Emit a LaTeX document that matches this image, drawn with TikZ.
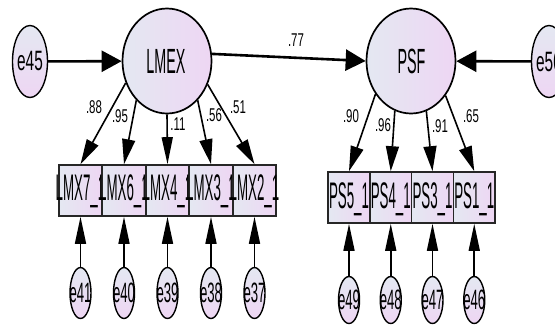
\documentclass[tikz,border=0pt]{standalone}
\usepackage{fontspec}
\setmainfont{Liberation Sans}
% condensed cuts of the same sans family for the different kinds of labels
\newfontfamily\latentfont[FakeStretch=0.41]{Liberation Sans}
\newfontfamily\itemfont[FakeStretch=0.36]{Liberation Sans}
\newfontfamily\errorfont[FakeStretch=0.55]{Liberation Sans}
\newfontfamily\indfont[FakeStretch=0.47]{Liberation Sans}
\newfontfamily\coeffont[FakeStretch=0.62]{Liberation Sans}
\usetikzlibrary{arrows.meta,shapes.geometric}

\definecolor{shadeL}{RGB}{228,232,242}
\definecolor{shadeR}{RGB}{238,214,243}

\tikzset{
  latent/.style={ellipse, draw=black, line width=1.7pt, inner sep=0pt,
    minimum width=89pt, minimum height=105pt, left color=shadeL, right color=shadeR},
  errvar/.style={ellipse, draw=black, line width=1.4pt, inner sep=0pt,
    top color=shadeL, bottom color=shadeR},
  itembox/.style={rectangle, draw=black!85, line width=1.6pt, inner sep=0pt,
    minimum height=51pt, left color=shadeL, right color=shadeR},
  latlabel/.style={inner sep=0pt, font=\latentfont\fontsize{35}{35}\selectfont},
  itemlabel/.style={inner sep=0pt, anchor=base, font=\itemfont\fontsize{37}{37}\selectfont},
  errlabel/.style={inner sep=0pt, font=\errorfont\fontsize{28}{28}\selectfont},
  indlabel/.style={inner sep=0pt, font=\indfont\fontsize{28}{28}\selectfont},
  coef/.style={inner sep=0pt, font=\coeffont\fontsize{18.5}{18.5}\selectfont},
  hpath/.style={line width=2.6pt, -{Triangle[length=20pt,width=21pt]}},
  vpath/.style={line width=1.6pt, -{Triangle[length=27pt,width=11pt]}},
  dpath/.style={line width=1.6pt, -{Triangle[length=25pt,width=13pt]}},
}

\begin{document}
\begin{tikzpicture}[x=1pt,y=-1pt]
\useasboundingbox (0,0) rectangle (555,325);

% latent factors
\node[latent] (lmex) at (167,61) {};
\node[latlabel] (lmexT) at (166,61.5) {LMEX};
\node[latent] (psf) at (411,61) {};
\node[latlabel] (psfT) at (411.5,61.5) {PSF};

% disturbances of the factors
\node[errvar, minimum width=35pt, minimum height=72pt] (e45) at (30,61.5) {};
\node[errlabel] (e45T) at (30,61.5) {e45};
\node[errvar, minimum width=35pt, minimum height=72pt] (e50) at (549,61.5) {};
\node[errlabel] (e50T) at (549,61.5) {e50};

% indicators of LMEX
\foreach \i/\x/\t in {1/80.5/LMX7\_1, 2/124/LMX6\_1, 3/167.5/LMX4\_1, 4/211/LMX3\_1, 5/254.5/LMX2\_1}{
  \node[itembox, minimum width=43.5pt] (lmx\i) at (\x,190.5) {};
  \node[itemlabel] (lmxT\i) at (\x,200.5) {\t};
}
% indicators of PSF
\foreach \i/\x/\t in {1/349/PS5\_1, 2/390.75/PS4\_1, 3/432.5/PS3\_1, 4/474.25/PS1\_1}{
  \node[itembox, minimum width=41.75pt] (ps\i) at (\x,197.5) {};
  \node[itemlabel] (psT\i) at (\x,208.5) {\t};
}

% measurement errors
\foreach \i/\x/\t in {1/80.5/e41, 2/124/e40, 3/167.5/e39, 4/211/e38, 5/254.5/e37}{
  \node[errvar, minimum width=21pt, minimum height=51pt] (el\i) at (\x,293) {};
  \node[indlabel] (elT\i) at (\x,293) {\t};
  \draw[vpath] (el\i) -- (lmx\i);
}
\foreach \i/\x/\t in {1/349/e49, 2/390.75/e48, 3/432.5/e47, 4/474.25/e46}{
  \node[errvar, minimum width=21pt, minimum height=47pt] (ep\i) at (\x,300) {};
  \node[indlabel] (epT\i) at (\x,300) {\t};
  \draw[vpath] (ep\i) -- (ps\i);
}

% structural paths
\draw[hpath] (e45) -- (lmex);
\draw[hpath] (lmex.9) -- (psf.west);
\draw[hpath] (e50) -- (psf);

% loadings
\draw[dpath] (lmex.208) -- (lmx1.north);
\draw[dpath] (lmex.232) -- (lmx2.north);
\draw[vpath] (lmex.270) -- (lmx3.north);
\draw[dpath] (lmex.308) -- (lmx4.north);
\draw[dpath] (lmex.330) -- (lmx5.north);

\draw[dpath] (psf.223.5) -- (ps1.north);
\draw[dpath] (psf.252.6) -- (ps2.north);
\draw[dpath] (psf.287.4) -- (ps3.north);
\draw[dpath] (psf.315.8) -- (ps4.north);

% coefficients
\node[coef] (c77) at (296,40) {.77};
\node[coef] (c88) at (94,107) {.88};
\node[coef] (c95) at (120,116) {.95};
\node[coef] (c11) at (178,124) {.11};
\node[coef] (c56) at (214,115) {.56};
\node[coef] (c51) at (238,107) {.51};
\node[coef] (c90) at (351,116) {.90};
\node[coef] (c96) at (383,125) {.96};
\node[coef] (c91) at (440,126) {.91};
\node[coef] (c65) at (471,116) {.65};
\end{tikzpicture}
\end{document}
